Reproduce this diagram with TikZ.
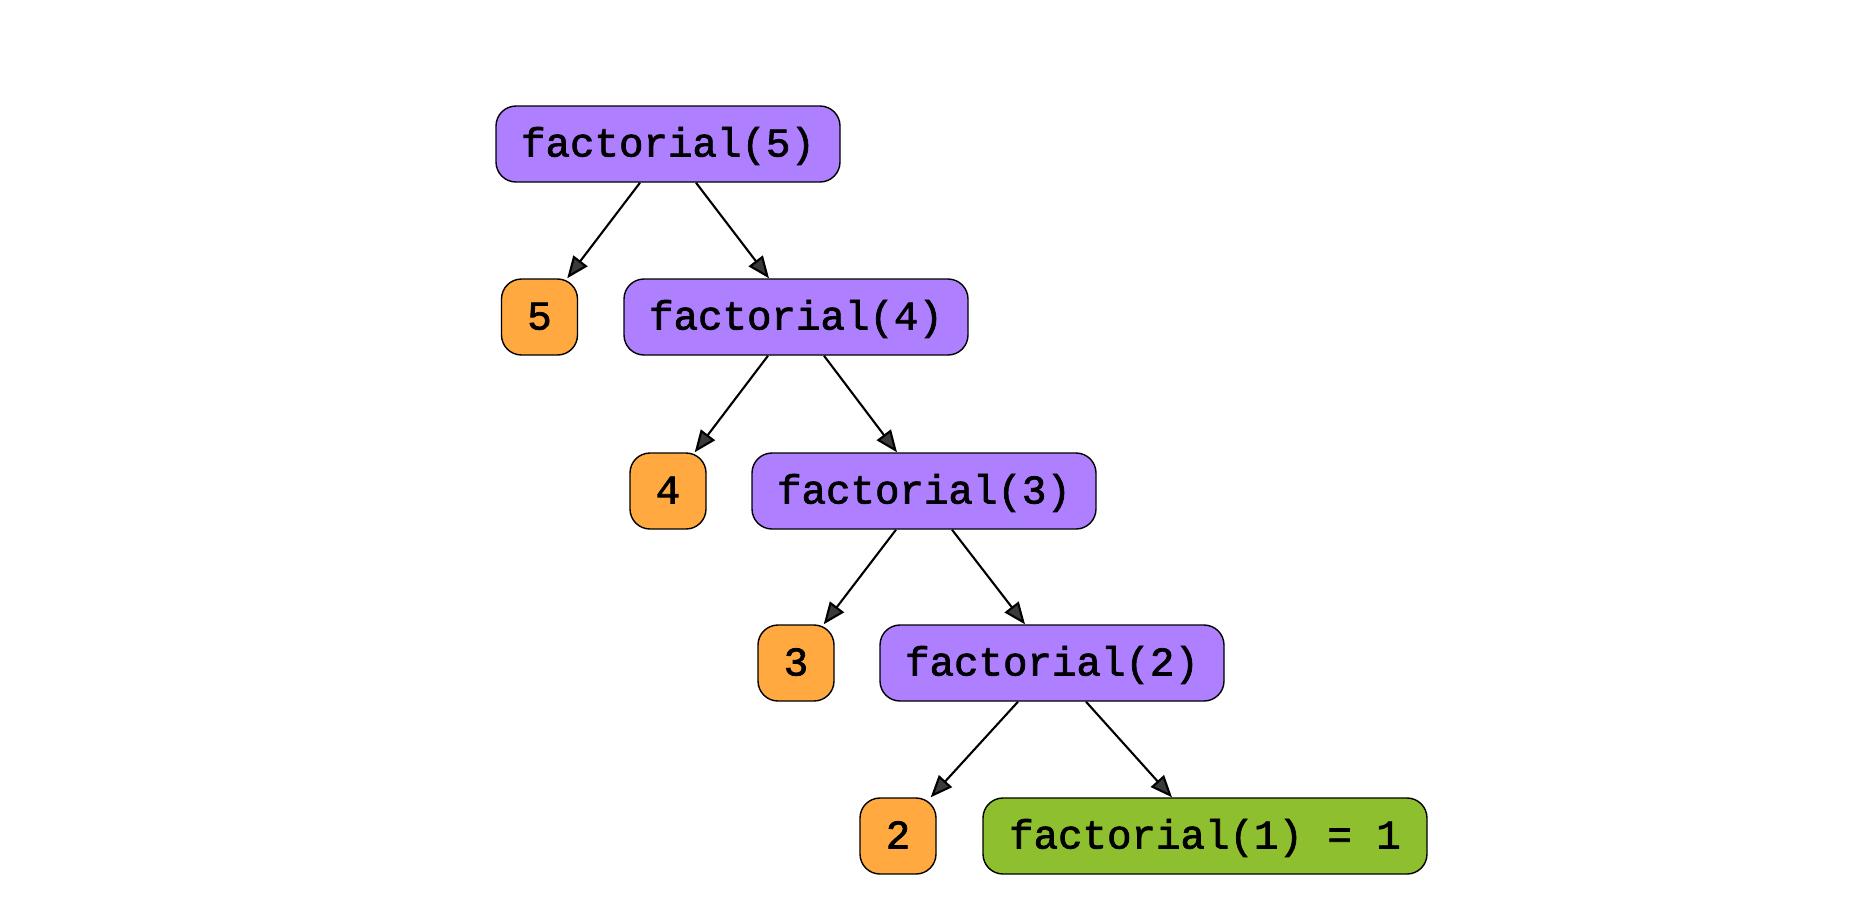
\documentclass[tikz,border=0pt]{standalone}
\usepackage{fontspec}
\setmonofont[FakeBold=1.8,AutoFakeBold=false]{Liberation Mono}
\usetikzlibrary{arrows.meta,calc}
\definecolor{callfill}{HTML}{AE80FF}
\definecolor{valfill}{HTML}{FFA940}
\definecolor{basefill}{HTML}{8DBF2E}
\definecolor{tipgray}{HTML}{3A3A3A}
\begin{document}
\begin{tikzpicture}[x=0.5pt,y=-0.5pt,
  box/.style={draw=black,line width=0.7pt,rounded corners=10pt,minimum height=38pt,
    inner sep=0pt,text height=16.7pt,text depth=4.2pt,
    font=\ttfamily\fontsize{20.4}{24}\selectfont},
  call/.style={box,fill=callfill,minimum width=172pt},
  val/.style={box,fill=valfill,minimum width=38pt},
  base/.style={box,fill=basefill,minimum width=222pt},
  edge/.style={line width=1.05pt,-{Triangle[length=11pt,width=8.8pt,fill=tipgray]}}]
\useasboundingbox (0,0) rectangle (1864,902);

% recursive calls and their values
\node[call] (f5) at (668,144) {factorial(5)};
\node[val]  (v5) at (539.5,317) {5};
\node[call] (f4) at (796,317) {factorial(4)};
\node[val]  (v4) at (668,491) {4};
\node[call] (f3) at (924,491) {factorial(3)};
\node[val]  (v3) at (796,663) {3};
\node[call] (f2) at (1052,663) {factorial(2)};
\node[val]  (v2) at (898,836) {2};
\node[base] (f1) at (1205,836) {factorial(1) = 1};

% edges
\draw[edge] ($(f5.south)+(-28,0)$) -- ($(v5.north east)+(-11,0)$);
\draw[edge] ($(f5.south)+(28,0)$)  -- ($(f4.north)+(-27,0)$);
\draw[edge] ($(f4.south)+(-28,0)$) -- ($(v4.north east)+(-12,0)$);
\draw[edge] ($(f4.south)+(28,0)$)  -- ($(f3.north)+(-27,0)$);
\draw[edge] ($(f3.south)+(-28,0)$) -- ($(v3.north east)+(-11,0)$);
\draw[edge] ($(f3.south)+(28,0)$)  -- ($(f2.north)+(-27,0)$);
\draw[edge] ($(f2.south)+(-34,0)$) -- ($(v2.north east)+(-6,0)$);
\draw[edge] ($(f2.south)+(34,0)$)  -- ($(f1.north)+(-33,0)$);
\end{tikzpicture}
\end{document}
